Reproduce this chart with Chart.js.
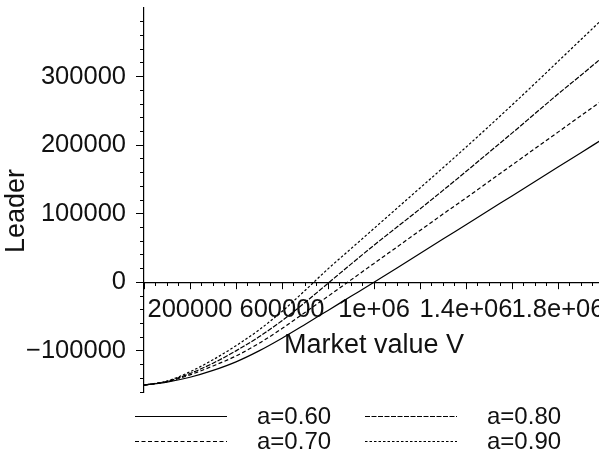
<!DOCTYPE html>
<html>
<head>
<meta charset="utf-8">
<script src="https://cdn.jsdelivr.net/npm/chart.js@4.4.1/dist/chart.umd.min.js"></script>
<style>
html,body{margin:0;padding:0;background:#fff;overflow:hidden;width:599px;height:456px}
canvas{display:block}
</style>
</head>
<body>
<canvas id="c" width="604" height="456"></canvas>
<script>
// ---- data ----
const marketValue = [0,100000,200000,300000,400000,500000,600000,700000,800000,900000,1000000,
  1100000,1200000,1300000,1400000,1500000,1600000,1700000,1800000,1900000,2000000];
const leaderA060 = [-150000,-145500,-138500,-128500,-116000,-100000,-81500,-61500,-41000,-20500,0,
  21000,42000,63000,84000,105000,126000,147000,168000,189000,210000];
const leaderA070 = [-150000,-145000,-135000,-122000,-107500,-89000,-67500,-44000,-20500,3500,27500,
  51500,75500,99500,123000,147000,171000,195000,219000,243000,267000];
const leaderA080 = [-150000,-144500,-133000,-118000,-100000,-79500,-56000,-29500,-1500,26500,54000,
  80500,107000,134000,161500,189500,217500,246000,274500,302000,330000];
const leaderA090 = [-150000,-144000,-130500,-113000,-92500,-69500,-42500,-12000,19500,49000,78500,
  108000,137500,167000,197000,227500,258500,290000,322000,354000,386000];

const seriesLabels = ['a=0.60','a=0.70','a=0.80','a=0.90'];
const seriesValues = [leaderA060, leaderA070, leaderA080, leaderA090];

const xTickValues = [200000,600000,1000000,1400000,1800000];
const xTickLabels = ['200000','600000','1e+06','1.4e+06','1.8e+06'];
const yTickValues = [-100000,0,100000,200000,300000];
const yTickLabels = ['\u2212100000','0','100000','200000','300000'];

// ---- styles ----
const seriesDash = [[], [4,2.5], [5,1.5], [2.5,2]];
const INK = '#111';
const FAMILY = "'Liberation Sans', Arial, Helvetica, sans-serif";
Chart.defaults.font.family = FAMILY;
Chart.defaults.color = INK;

function findIdx(arr, v){ for (let i=0;i<arr.length;i++){ if (Math.abs(arr[i]-v) < 1) return i; } return -1; }
function zeroPad(s){ s.paddingLeft = 0; s.paddingRight = 0; s.paddingTop = 0; s.paddingBottom = 0; }

const datasets = seriesValues.map((vals, k) => ({
  label: seriesLabels[k],
  data: marketValue.map((v, i) => ({x: v, y: vals[i]})),
  borderColor: '#000',
  borderWidth: 1.2,
  borderDash: seriesDash[k],
  pointRadius: 0,
  fill: false,
  cubicInterpolationMode: 'monotone'
}));

const Y_TITLE_SHIFT = 11;
const titleShift = {
  id: 'titleShift',
  afterLayout(chart){
    const ys = chart.scales.y;
    if (ys && !ys._shifted){
      const orig = ys.drawTitle.bind(ys);
      ys.drawTitle = function(){ const c = this.ctx; c.save(); c.translate(0, Y_TITLE_SHIFT); orig(); c.restore(); };
      ys._shifted = true;
    }
  }
};

const columnLegend = {
  id: 'columnLegend',
  afterDraw(chart, args, opts){
    const ctx = chart.ctx;
    chart.data.datasets.forEach((ds, i) => {
      const col = Math.floor(i / 2), row = i % 2;
      const x = opts.left + col * opts.colGap;
      const y = opts.top + row * opts.rowGap;
      ctx.save();
      ctx.strokeStyle = ds.borderColor;
      ctx.lineWidth = ds.borderWidth;
      ctx.setLineDash(ds.borderDash || []);
      ctx.beginPath();
      ctx.moveTo(x, y);
      ctx.lineTo(x + opts.lineLen, y);
      ctx.stroke();
      ctx.setLineDash([]);
      ctx.fillStyle = INK;
      ctx.font = opts.fontSize + 'px ' + FAMILY;
      ctx.textBaseline = 'middle';
      ctx.textAlign = 'left';
      ctx.fillText(ds.label, x + opts.textOffset, y + 1);
      ctx.restore();
    });
  }
};

new Chart(document.getElementById('c'), {
  type: 'line',
  data: { datasets },
  plugins: [titleShift, columnLegend],
  options: {
    responsive: false,
    animation: false,
    events: [],
    layout: { padding: { top: 8, right: 0, bottom: 64, left: 0 } },
    plugins: {
      legend: { display: false },
      tooltip: { enabled: false },
      columnLegend: { left: 135, top: 416.5, colGap: 230, rowGap: 25, lineLen: 92, textOffset: 122, fontSize: 24 }
    },
    scales: {
      x: {
        type: 'linear', min: 0, max: 2000000,
        position: { y: 0 },
        border: { display: true, color: '#000', width: 1.2 },
        grid: { drawOnChartArea: false, drawTicks: true, tickLength: 6, color: '#000', tickWidth: 1 },
        ticks: {
          stepSize: 200000, autoSkip: false, includeBounds: false, minRotation: 0, maxRotation: 0,
          padding: 6, color: INK, font: { size: 25.5 },
          callback: (v) => { const i = findIdx(xTickValues, v); return i >= 0 ? xTickLabels[i] : ''; }
        },
        title: { display: true, text: 'Market value V', color: INK, font: { size: 27 }, padding: { top: -2, bottom: 0 } },
        afterFit: zeroPad
      },
      xMinor: {
        type: 'linear', min: 0, max: 2000000,
        position: { y: 0 },
        border: { display: false },
        grid: { drawOnChartArea: false, drawTicks: true, tickLength: 4, color: '#000', tickWidth: 1 },
        ticks: { stepSize: 50000, display: false, includeBounds: false },
        afterFit: zeroPad
      },
      y: {
        type: 'linear', min: -160000, max: 400000,
        position: 'left',
        border: { display: true, color: '#000', width: 1.2 },
        grid: { drawOnChartArea: false, drawTicks: true, tickLength: 8, tickWidth: 1, color: '#000' },
        afterBuildTicks: (s) => { s.ticks = yTickValues.map(v => ({ value: v })); },
        ticks: {
          autoSkip: false, padding: 10, color: INK, font: { size: 25.5 },
          callback: (v) => { const i = findIdx(yTickValues, v); return i >= 0 ? yTickLabels[i] : ''; }
        },
        title: { display: true, text: 'Leader', color: INK, font: { size: 27 }, padding: 0 },
        afterFit: (s) => { zeroPad(s); s.width = 144; }
      },
      yMinor: {
        type: 'linear', min: -160000, max: 400000,
        position: { x: 0 },
        border: { display: false },
        grid: {
          drawOnChartArea: false, drawTicks: true, tickLength: 4, tickWidth: 1,
          tickColor: (c) => (c.tick && c.tick.value > 390000) ? 'rgba(0,0,0,0)' : '#000'
        },
        ticks: { stepSize: 20000, display: false, includeBounds: false },
        afterFit: zeroPad
      }
    }
  }
});
</script>
</body>
</html>
